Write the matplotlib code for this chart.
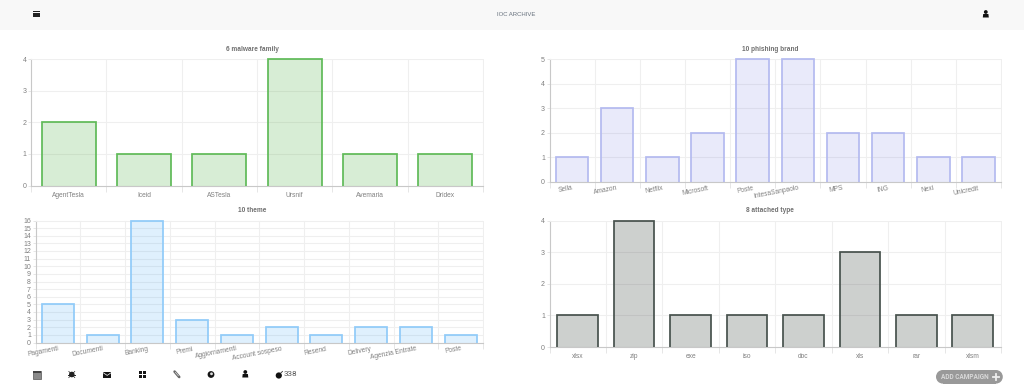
import matplotlib
matplotlib.use("Agg")
import matplotlib.pyplot as plt
from matplotlib.patches import Rectangle, Circle, Polygon
import numpy as np

plt.rcParams['font.family'] = ['Liberation Sans', 'DejaVu Sans']

W, H = 1024, 392

# data
malware_names = ['AgentTesla', 'Iceid', 'ASTesla', 'Ursnif', 'Avemaria', 'Dridex']
malware_counts = [2, 1, 1, 4, 1, 1]

brand_names = ['Sella', 'Amazon', 'Netflix', 'Microsoft', 'Poste', 'IntesaSanpaolo',
               'MPS', 'ING', 'Nexi', 'Unicredit']
brand_counts = [1, 3, 1, 2, 5, 5, 2, 2, 1, 1]

theme_names = ['Pagamenti', 'Documenti', 'Banking', 'Premi', 'Aggiornamenti',
               'Account sospeso', 'Resend', 'Delivery', 'Agenzia Entrate', 'Poste']
theme_counts = [5, 1, 16, 3, 1, 2, 1, 2, 2, 1]

attached_names = ['xlsx', 'zip', 'exe', 'iso', 'doc', 'xls', 'rar', 'xlsm']
attached_counts = [1, 4, 1, 1, 1, 3, 1, 1]

fig = plt.figure(figsize=(W / 100, H / 100), dpi=100, facecolor='white')

# page layer in pixel coords, header bar and icons go here
page = fig.add_axes([0, 0, 1, 1], zorder=5)
page.set_xlim(0, W)
page.set_ylim(H, 0)
page.axis('off')
page.patch.set_alpha(0)


def panel(box, title, title_x, names, counts, ymax, fill, edge, rot=0):
    left, top, right, bottom = box
    ax = fig.add_axes([left / W, 1 - bottom / H, (right - left) / W, (bottom - top) / H])
    x = np.arange(len(names))
    ax.bar(x, counts, width=0.72, color=fill, linewidth=0, zorder=3)
    # outline has no bottom side, like chart.js
    for xi, v in zip(x, counts):
        ax.plot([xi - 0.36, xi - 0.36, xi + 0.36, xi + 0.36], [0, v, v, 0], color=edge,
                lw=1.25, zorder=4, solid_joinstyle='miter', solid_capstyle='butt', clip_on=False)
    ax.set_xlim(-0.5, len(names) - 0.5)
    ax.set_ylim(0, ymax)
    ax.set_yticks(range(ymax + 1))
    ax.set_xticks(x)
    ax.set_xticks(np.arange(len(names) + 1) - 0.5, minor=True)
    if rot:
        ax.set_xticklabels(names, rotation=rot, ha='right', va='top', rotation_mode='anchor')
    else:
        ax.set_xticklabels(names)
    ax.tick_params(axis='x', which='major', length=0, labelsize=4.8, labelcolor='#808080',
                   pad=2 if rot else 4.4)
    ax.tick_params(axis='x', which='minor', length=4, width=0.7, color='#e6e6e6')
    ax.tick_params(axis='y', length=2.5, width=0.7, color='#e6e6e6', labelsize=5,
                   labelcolor='#808080', pad=0.8)
    ax.grid(True, axis='y', color='#efefef', lw=0.8, zorder=0)
    ax.grid(True, axis='x', which='minor', color='#efefef', lw=0.8, zorder=0)
    ax.set_axisbelow(True)
    for side in ['top', 'right']:
        ax.spines[side].set_color('#efefef')
        ax.spines[side].set_linewidth(0.7)
    for side in ['left', 'bottom']:
        ax.spines[side].set_color('#c8c8c8')
        ax.spines[side].set_linewidth(0.8)
    page.text(title_x, top - 9.6, title, ha='center', va='center',
              fontsize=4.7, fontweight='bold', color='#707070')
    return ax


panel((31, 59, 483, 185.5), '6 malware family', 252, malware_names, malware_counts, 4,
      (0.30, 0.68, 0.25, 0.22), '#5fba58')
panel((549.5, 59, 1001, 182), '10 phishing brand', 770, brand_names, brand_counts, 5,
      (0.30, 0.35, 0.85, 0.12), '#b4baf0', rot=11)
panel((35.5, 220.5, 483, 342.5), '10 theme', 252, theme_names, theme_counts, 16,
      (0.13, 0.59, 0.95, 0.14), '#90cbf9', rot=11)
panel((549.5, 220.5, 1001, 347), '8 attached type', 770, attached_names, attached_counts, 4,
      (0.12, 0.17, 0.14, 0.22), '#47524d')

# header
page.add_patch(Rectangle((0, 0), W, 29.5, color='#f8f8f8', lw=0, zorder=0))
page.text(516, 14, 'IOC ARCHIVE', ha='center', va='center', fontsize=4.3, color='#66707c')
for yy in [11.6, 13.8, 16]:
    page.add_patch(Rectangle((33.3, yy - 0.8), 6.8, 1.5, color='#222222', lw=0))


def user_icon(cx, cy):
    page.add_patch(Circle((cx, cy - 2), 1.9, color='#111111', lw=0))
    page.add_patch(Polygon([(cx - 3, cy + 3.5), (cx - 2.6, cy), (cx + 2.6, cy), (cx + 3, cy + 3.5)],
                           color='#111111', lw=0))


user_icon(985.8, 14)

# footer icon row
cy = 374
page.add_patch(Rectangle((33.4, 370.5), 7.3, 8, facecolor='#8a8a8a', edgecolor='#555555', lw=0.5))
page.add_patch(Rectangle((33.4, 370.5), 7.3, 2, color='#444444', lw=0))
page.add_patch(Circle((71.8, cy + 0.5), 2.8, color='#222222', lw=0))
page.plot([68.3, 75.3], [cy + 0.5, cy + 0.5], color='#222222', lw=0.7)
page.plot([68.8, 74.8], [cy + 3.6, cy - 2.6], color='#222222', lw=0.5)
page.plot([68.8, 74.8], [cy - 2.6, cy + 3.6], color='#222222', lw=0.5)
page.add_patch(Rectangle((103.3, 371.7), 7.7, 6.6, color='#151515', lw=0))
page.plot([103.3, 107.2, 111], [372.8, 375.4, 372.8], color='white', lw=0.5)
for dx in [139, 143]:
    for dy in [371, 375]:
        page.add_patch(Rectangle((dx, dy), 3, 2.6, color='#151515', lw=0, snap=True))
page.plot([174.6, 179.2], [371.6, 377], color='#666666', lw=1.9, solid_capstyle='round')
page.plot([175.3, 178.4], [372.2, 375.8], color='#dddddd', lw=0.5)
page.add_patch(Circle((211, cy + 0.5), 3.4, color='#151515', lw=0))
page.add_patch(Circle((211.5, cy - 0.2), 1.4, color='#dddddd', lw=0))
user_icon(245.3, cy)
page.add_patch(Circle((278.8, cy + 1.5), 3.1, color='#111111', lw=0))
page.plot([280.8, 282.5], [cy - 1, cy - 2.6], color='#333333', lw=0.6)
page.text(283.3, cy - 0.2, '338', ha='left', va='center', fontsize=5.9, color='#555555',
          family=['Roboto', 'DejaVu Sans'])

# add campaign button
page.add_patch(Rectangle((942.7, 370), 53.4, 13.6, color='#999999', lw=0))
page.add_patch(Circle((942.8, 376.8), 6.8, color='#999999', lw=0))
page.add_patch(Circle((996, 376.8), 6.8, color='#999999', lw=0))
page.text(965.3, 376.6, 'ADD CAMPAIGN', ha='center', va='center', fontsize=4.7, fontweight='bold',
          color='#d9d9d9', family=['Roboto', 'DejaVu Sans'])
page.plot([993, 998.6], [377, 377], color='#eeeeee', lw=1.3)
page.plot([995.8, 995.8], [374.2, 379.8], color='#eeeeee', lw=1.3)

fig.savefig('out.png', dpi=100)
